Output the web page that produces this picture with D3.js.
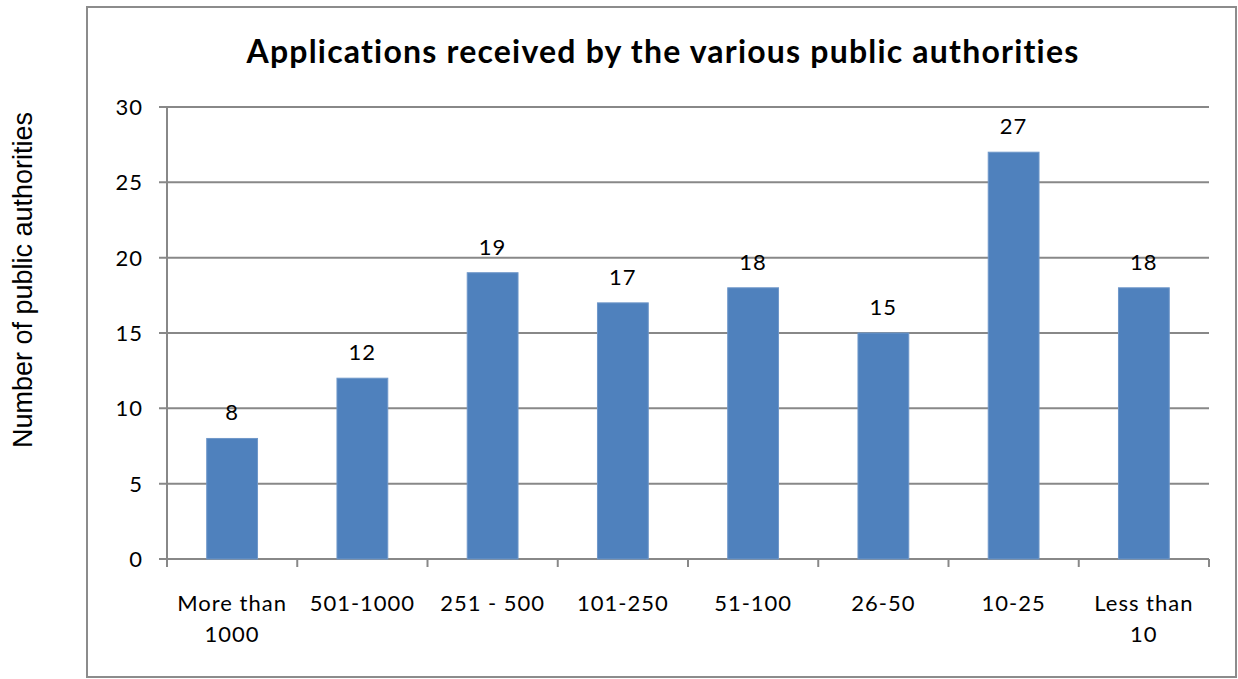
<!DOCTYPE html>
<html>
<head>
<meta charset="utf-8">
<script src="https://cdnjs.cloudflare.com/ajax/libs/d3/7.8.5/d3.min.js"></script>
<style>
  body { margin: 0; background: #fff; }
  svg { display: block; }
</style>
</head>
<body>
<div id="chart"></div>
<script>
var categories = ["More than 1000", "501-1000", "251 - 500", "101-250", "51-100", "26-50", "10-25", "Less than 10"];
var catLines = [["More than", "1000"], ["501-1000"], ["251 - 500"], ["101-250"], ["51-100"], ["26-50"], ["10-25"], ["Less than", "10"]];
var values = [8, 12, 19, 17, 18, 15, 27, 18];
var yTicks = [0, 5, 10, 15, 20, 25, 30];

var W = 1238, H = 679;
var plot = {left: 167, right: 1209, top: 107, bottom: 559};
var labelFont = "Lato, sans-serif";

var svg = d3.select("#chart").append("svg")
    .attr("width", W)
    .attr("height", H);

// chart frame
svg.append("rect")
    .attr("x", 87).attr("y", 7)
    .attr("width", 1149).attr("height", 670)
    .attr("fill", "#fff")
    .attr("stroke", "#8c8c8c")
    .attr("stroke-width", 2);

var x = d3.scaleBand()
    .domain(categories)
    .range([plot.left, plot.right])
    .paddingInner(0.61)
    .paddingOuter(0.305);

var y = d3.scaleLinear()
    .domain([0, 30])
    .range([plot.bottom, plot.top]);

// gridlines
svg.append("g")
  .selectAll("line")
  .data(yTicks)
  .enter().append("line")
    .attr("x1", plot.left - 8)
    .attr("x2", plot.right)
    .attr("y1", function(d){ return y(d); })
    .attr("y2", function(d){ return y(d); })
    .attr("stroke", "#888")
    .attr("stroke-width", 2);

// y tick labels
svg.append("g")
  .selectAll("text")
  .data(yTicks)
  .enter().append("text")
    .attr("x", plot.left - 24)
    .attr("y", function(d){ return y(d) + 8; })
    .attr("text-anchor", "end")
    .style("font-family", labelFont)
    .style("font-size", "22px")
    .style("letter-spacing", "1px")
    .text(function(d){ return d; });

// bars
svg.append("g")
  .selectAll("rect")
  .data(values)
  .enter().append("rect")
    .attr("x", function(d, i){ return x(categories[i]); })
    .attr("y", function(d){ return y(d); })
    .attr("width", x.bandwidth())
    .attr("height", function(d){ return y(0) - y(d); })
    .attr("fill", "#4f81bd")
    .attr("stroke", "#6f97c9")
    .attr("stroke-width", 1);

// value labels
svg.append("g")
  .selectAll("text")
  .data(values)
  .enter().append("text")
    .attr("x", function(d, i){ return x(categories[i]) + x.bandwidth() / 2; })
    .attr("y", function(d){ return y(d) - 18; })
    .attr("text-anchor", "middle")
    .style("font-family", labelFont)
    .style("font-size", "22px")
    .style("letter-spacing", "1px")
    .text(function(d){ return d; });

// y axis line
svg.append("line")
    .attr("x1", plot.left).attr("x2", plot.left)
    .attr("y1", plot.top).attr("y2", plot.bottom + 8)
    .attr("stroke", "#888").attr("stroke-width", 2);

// category ticks
var step = x.step();
var tickX = d3.range(categories.length + 1).map(function(i){ return plot.left + i * step; });
svg.append("g")
  .selectAll("line")
  .data(tickX)
  .enter().append("line")
    .attr("x1", function(d){ return d; })
    .attr("x2", function(d){ return d; })
    .attr("y1", plot.bottom)
    .attr("y2", plot.bottom + 8)
    .attr("stroke", "#888").attr("stroke-width", 2);

// category labels
var cat = svg.append("g")
  .selectAll("text")
  .data(catLines)
  .enter().append("text")
    .attr("x", function(d, i){ return x(categories[i]) + x.bandwidth() / 2; })
    .attr("y", 611)
    .attr("text-anchor", "middle")
    .style("font-family", labelFont)
    .style("font-size", "22px")
    .style("letter-spacing", "1px");
cat.selectAll("tspan")
  .data(function(d){ return d; })
  .enter().append("tspan")
    .attr("x", function(){ return d3.select(this.parentNode).attr("x"); })
    .attr("dy", function(d, i){ return i === 0 ? 0 : 31; })
    .text(function(d){ return d; });

// title
svg.append("text")
    .attr("x", 663)
    .attr("y", 63)
    .attr("text-anchor", "middle")
    .style("font-family", labelFont)
    .style("font-weight", "bold")
    .style("font-size", "32px")
    .style("letter-spacing", "1.2px")
    .text("Applications received by the various public authorities");

// y axis title
svg.append("text")
    .attr("transform", "translate(32,280) rotate(-90)")
    .attr("text-anchor", "middle")
    .style("font-family", "Liberation Sans, Arial, sans-serif")
    .style("font-size", "27px")
    .text("Number of public authorities");
</script>
</body>
</html>
